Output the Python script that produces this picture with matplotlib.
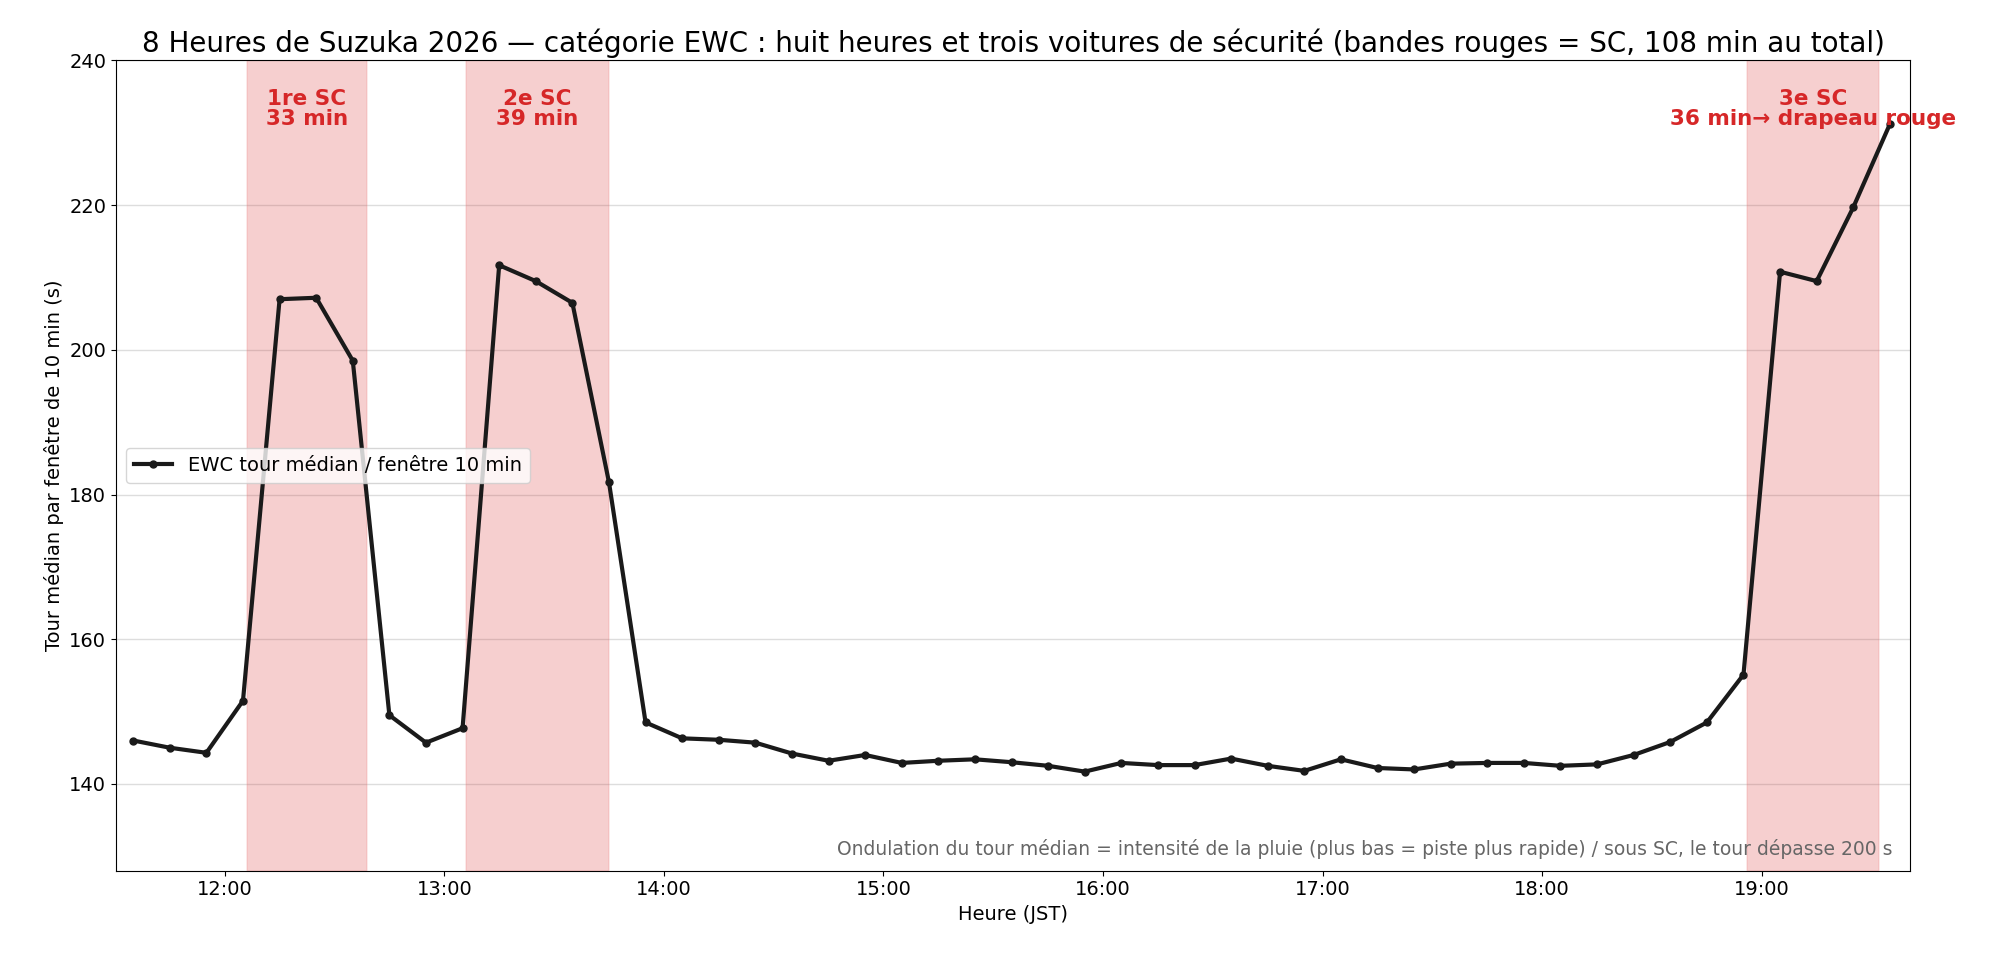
import matplotlib
matplotlib.use("Agg")
import matplotlib.pyplot as plt
from matplotlib.ticker import FuncFormatter

plt.rcParams['font.family'] = ['DejaVu Sans', 'Noto Sans CJK JP']

times_min = [11*60+35 + 10*i for i in range(49)]
lap_median = [146.0, 145.0, 144.3, 151.5, 207.0, 207.2, 198.5, 149.5, 145.7, 147.7,
              211.7, 209.5, 206.5, 181.7, 148.5, 146.3, 146.1, 145.7, 144.2, 143.2,
              144.0, 142.9, 143.2, 143.4, 143.0, 142.5, 141.7, 142.9, 142.6, 142.6,
              143.5, 142.5, 141.8, 143.4, 142.2, 142.0, 142.8, 142.9, 142.9, 142.5,
              142.7, 144.0, 145.8, 148.5, 155.1, 210.8, 209.5, 219.7, 231.2]
sc_start = [12*60+6, 13*60+6, 18*60+56]
sc_end = [12*60+39, 13*60+45, 19*60+32]
sc_labels = ["1re SC\n33 min", "2e SC\n39 min", "3e SC\n36 min→ drapeau rouge"]

x = [t/60 for t in times_min]
fig, ax = plt.subplots(figsize=(20, 9.6), dpi=100)
fig.subplots_adjust(left=0.058, right=0.955, top=0.937, bottom=0.093)
for s, e, lab in zip(sc_start, sc_end, sc_labels):
    ax.axvspan(s/60, e/60, color='#d62728', alpha=0.22, lw=1.2, ec='#e88')
    ax.text((s+e)/120, 236, lab, ha='center', va='top', color='#d62728',
            fontsize=15.5, fontweight='bold', linespacing=1.0)
ax.plot(x, lap_median, color='#1a1a1a', lw=3, marker='o', ms=5,
        label='EWC tour médian / fenêtre 10 min')
ax.set_xlim(11.505, 19.675)
ax.set_ylim(128, 240)
ax.set_yticks([140, 160, 180, 200, 220, 240])
ax.set_xticks(range(12, 20))
ax.xaxis.set_major_formatter(FuncFormatter(lambda v, p: f"{int(v)}:00"))
ax.tick_params(labelsize=14)
ax.grid(axis='y', color='#ddd', lw=1)
ax.set_axisbelow(True)
ax.set_xlabel('Heure (JST)', fontsize=14)
ax.set_ylabel('Tour médian par fenêtre de 10 min (s)', fontsize=14)
ax.set_title("8 Heures de Suzuka 2026 — catégorie EWC : huit heures et trois voitures de sécurité (bandes rouges = SC, 108 min au total)",
             fontsize=20)
ax.legend(loc='center left', bbox_to_anchor=(0.0, 0.5), fontsize=14)
ax.text(0.99, 0.015, "Ondulation du tour médian = intensité de la pluie (plus bas = piste plus rapide) / sous SC, le tour dépasse 200 s",
        transform=ax.transAxes, ha='right', va='bottom', color='#666', fontsize=13.5)
fig.savefig('out.png')
